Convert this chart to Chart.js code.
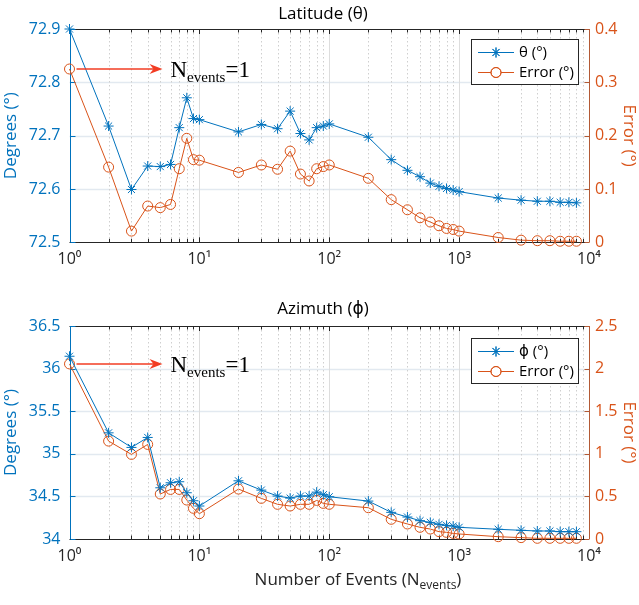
<!DOCTYPE html>
<html><head><meta charset="utf-8">
<script src="https://cdn.jsdelivr.net/npm/chart.js@4/dist/chart.umd.min.js"></script>
<style>
body{margin:0;background:#fff;width:639px;height:605px;overflow:hidden}
.box{position:absolute;left:0;width:639px}
</style>
</head><body>
<div class="box" style="top:0;height:295px"><canvas id="c1"></canvas></div>
<div class="box" style="top:295px;height:310px"><canvas id="c2"></canvas></div>
<script>
// ---- data ----
const events = [1,2,3,4,5,6,7,8,9,10,20,30,40,50,60,70,80,90,100,200,300,400,500,600,700,800,900,1000,2000,3000,4000,5000,6000,7000,8000];
const latTheta = [72.900,72.718,72.599,72.643,72.642,72.646,72.715,72.771,72.732,72.730,
  72.707,72.721,72.713,72.746,72.704,72.692,72.715,72.718,72.722,
  72.697,72.655,72.635,72.623,72.611,72.605,72.601,72.598,72.595,
  72.583,72.579,72.577,72.577,72.575,72.575,72.574];
const latError = [0.325,0.141,0.021,0.068,0.065,0.071,0.138,0.195,0.155,0.154,
  0.131,0.145,0.137,0.171,0.128,0.115,0.138,0.142,0.145,
  0.120,0.080,0.061,0.046,0.038,0.031,0.026,0.024,0.021,
  0.009,0.004,0.003,0.003,0.002,0.002,0.002];
const aziPhi = [36.145,35.246,35.075,35.192,34.601,34.660,34.672,34.543,34.449,34.387,
  34.683,34.574,34.504,34.480,34.504,34.504,34.550,34.520,34.496,
  34.445,34.313,34.258,34.215,34.195,34.172,34.160,34.152,34.137,
  34.114,34.102,34.094,34.094,34.086,34.086,34.086];
const aziError = [2.055,1.149,0.993,1.110,0.528,0.582,0.582,0.457,0.360,0.297,
  0.586,0.477,0.407,0.387,0.407,0.407,0.453,0.418,0.407,
  0.367,0.231,0.176,0.137,0.117,0.086,0.078,0.066,0.059,
  0.027,0.016,0.008,0.008,0.008,0.008,0.008];
const xTickExponents = [0,1,2,3,4];
const latLeftTicks = [72.5,72.6,72.7,72.8,72.9];
const latRightTicks = [0,0.1,0.2,0.3,0.4];
const aziLeftTicks = [34,34.5,35,35.5,36,36.5];
const aziRightTicks = [0,0.5,1,1.5,2,2.5];
const titles = ['Latitude (θ)','Azimuth (ϕ)'];
const legendLabels = [['θ (°)','Error (°)'],['ϕ (°)','Error (°)']];

// ---- styles ----
const BLUE = '#0072BD', ORANGE = '#D95319', AXR = '#b35a35', DARK = '#262626';
const FONT = "'Open Sans', 'DejaVu Sans', sans-serif";
const SUP = {0:'⁰',1:'¹',2:'²',3:'³',4:'⁴'};

function fmt(v){ return Number(v.toFixed(2)).toString(); }

function drawArrowNote(ctx, x0, y, x1){
  ctx.save();
  ctx.strokeStyle = '#f23c23'; ctx.fillStyle = '#f23c23'; ctx.lineWidth = 1.5;
  ctx.beginPath(); ctx.moveTo(x0, y); ctx.lineTo(x1 - 8, y); ctx.stroke();
  ctx.beginPath(); ctx.moveTo(x1, y); ctx.lineTo(x1 - 13, y - 5); ctx.lineTo(x1 - 9, y); ctx.lineTo(x1 - 13, y + 5); ctx.closePath(); ctx.fill();
  ctx.fillStyle = '#000'; ctx.textBaseline = 'alphabetic'; ctx.textAlign = 'left';
  let tx = x1 + 8, by = y + 8;
  ctx.font = "23px 'Liberation Serif', serif"; ctx.fillText('N', tx, by); tx += ctx.measureText('N').width;
  ctx.font = "15px 'Liberation Serif', serif"; ctx.fillText('events', tx, by + 5); tx += ctx.measureText('events').width;
  ctx.font = "23px 'Liberation Serif', serif"; ctx.fillText('=1', tx, by);
  ctx.restore();
}

function makeChart(id, cfg){
  const deco = {
    id: 'deco',
    beforeDatasetsDraw(chart){
      const {ctx, chartArea:a, scales} = chart;
      const xs = scales.x, yl = scales.y, yr = scales.y1;
      ctx.save();
      // horizontal grid
      ctx.strokeStyle = '#e2e9f0'; ctx.lineWidth = 1.5;
      cfg.leftTicks.forEach(v => {
        const y = Math.round(yl.getPixelForValue(v)) + 0.5;
        if (y > a.top + 1 && y < a.bottom - 1){ ctx.beginPath(); ctx.moveTo(a.left, y); ctx.lineTo(a.right, y); ctx.stroke(); }
      });
      // vertical grid
      for (let d = 0; d < 4; d++){
        for (let k = 1; k <= 9; k++){
          const v = k * Math.pow(10, d);
          const x = Math.round(xs.getPixelForValue(v)) + 0.5;
          if (k === 1){ if (d === 0) continue; ctx.setLineDash([]); ctx.strokeStyle = '#dddddd'; ctx.lineWidth = 1; }
          else { ctx.setLineDash([1.5, 2.5]); ctx.strokeStyle = '#cfcfcf'; ctx.lineWidth = 1; }
          ctx.beginPath(); ctx.moveTo(x, a.top); ctx.lineTo(x, a.bottom); ctx.stroke();
        }
      }
      ctx.setLineDash([]);
      // x ticks on top and bottom
      ctx.strokeStyle = DARK; ctx.lineWidth = 1;
      for (let d = 0; d < 4; d++){
        for (let k = 1; k <= 9; k++){
          const x = Math.round(xs.getPixelForValue(k * Math.pow(10, d))) + 0.5;
          const len = k === 1 ? 5 : 3.5;
          ctx.beginPath(); ctx.moveTo(x, a.bottom); ctx.lineTo(x, a.bottom - len);
          ctx.moveTo(x, a.top); ctx.lineTo(x, a.top + len); ctx.stroke();
        }
      }
      // box
      ctx.beginPath(); ctx.moveTo(a.left, Math.round(a.top)+0.5); ctx.lineTo(a.right, Math.round(a.top)+0.5);
      ctx.moveTo(a.left, Math.round(a.bottom)+0.5); ctx.lineTo(a.right, Math.round(a.bottom)+0.5); ctx.stroke();
      ctx.strokeStyle = BLUE; ctx.beginPath();
      const lx = Math.round(a.left) + 0.5;
      ctx.moveTo(lx, a.top); ctx.lineTo(lx, a.bottom);
      cfg.leftTicks.forEach(v => { const y = Math.round(yl.getPixelForValue(v)) + 0.5; ctx.moveTo(lx, y); ctx.lineTo(lx + 5, y); });
      ctx.stroke();
      ctx.strokeStyle = AXR; ctx.beginPath();
      const rx = Math.round(a.right) + 0.5;
      ctx.moveTo(rx, a.top); ctx.lineTo(rx, a.bottom);
      cfg.rightTicks.forEach(v => { const y = Math.round(yr.getPixelForValue(v)) + 0.5; ctx.moveTo(rx, y); ctx.lineTo(rx - 5, y); });
      ctx.stroke();
      ctx.restore();
    },
    afterDatasetsDraw(chart){
      const {ctx, chartArea:a, scales} = chart;
      ctx.save();
      // title
      ctx.fillStyle = '#000'; ctx.font = '17px ' + FONT; ctx.textAlign = 'center'; ctx.textBaseline = 'middle';
      ctx.fillText(cfg.title, cfg.titleX, cfg.titleY);
      // annotation arrow
      const px = scales.x.getPixelForValue(events[0]);
      const py = scales.y1.getPixelForValue(cfg.err[0]);
      drawArrowNote(ctx, px + 7, py, px + 93);
      // legend
      const L = cfg.legend;
      ctx.fillStyle = '#fff'; ctx.fillRect(L.x, L.y, L.w, L.h);
      ctx.strokeStyle = DARK; ctx.lineWidth = 1; ctx.strokeRect(L.x + 0.5, L.y + 0.5, L.w, L.h);
      const rows = [L.y + 13.5, L.y + 33.5];
      ctx.font = '15px ' + FONT; ctx.textAlign = 'left'; ctx.textBaseline = 'middle';
      [[BLUE,'star'],[ORANGE,'circle']].forEach((s, i) => {
        const y = rows[i];
        ctx.strokeStyle = s[0]; ctx.lineWidth = 1;
        ctx.beginPath(); ctx.moveTo(L.x + 7, y); ctx.lineTo(L.x + 43, y); ctx.stroke();
        ctx.fillStyle = '#fff';
        Chart.helpers.drawPoint(ctx, {pointStyle: s[1], radius: 5, rotation: 0, borderWidth: 1}, L.x + 25, y);
        ctx.stroke();
        ctx.fillStyle = '#000'; ctx.fillText(cfg.labels[i], L.x + 48, y);
      });
      // x label
      if (cfg.xlabel){
        ctx.fillStyle = DARK; ctx.textBaseline = 'alphabetic'; ctx.textAlign = 'left';
        const f1 = '17px ' + FONT, f2 = '12px ' + FONT;
        const t1 = 'Number of Events (N', t2 = 'events', t3 = ')';
        ctx.font = f1; const w1 = ctx.measureText(t1).width, w3 = ctx.measureText(t3).width;
        ctx.font = f2; const w2 = ctx.measureText(t2).width;
        let x = cfg.xlabelX - (w1 + w2 + w3) / 2; const by = cfg.xlabelY;
        ctx.font = f1; ctx.fillText(t1, x, by); x += w1;
        ctx.font = f2; ctx.fillText(t2, x, by + 4); x += w2;
        ctx.font = f1; ctx.fillText(t3, x, by);
      }
      ctx.restore();
    }
  };

  return new Chart(document.getElementById(id), {
    type: 'line',
    data: {
      labels: events,
      datasets: [
        {label: cfg.labels[0], data: events.map((e, i) => ({x: e, y: cfg.val[i]})), yAxisID: 'y',
         borderColor: BLUE, backgroundColor: BLUE, borderWidth: 1, pointStyle: 'star', pointRadius: 5,
         pointBorderColor: BLUE, pointBorderWidth: 1, pointHoverRadius: 5, tension: 0, clip: false, order: 1},
        {label: cfg.labels[1], data: events.map((e, i) => ({x: e, y: cfg.err[i]})), yAxisID: 'y1',
         borderColor: ORANGE, backgroundColor: 'rgba(0,0,0,0)', borderWidth: 1, pointStyle: 'circle', pointRadius: 5,
         pointBorderColor: ORANGE, pointBackgroundColor: 'rgba(0,0,0,0)', pointBorderWidth: 1, pointHoverRadius: 5, tension: 0, clip: false, order: 2}
      ]
    },
    options: {
      responsive: true, maintainAspectRatio: false, animation: false,
      layout: {padding: {top: cfg.padTop, left: 0, right: 0, bottom: 0}},
      plugins: {legend: {display: false}, tooltip: {enabled: false}, title: {display: false}},
      events: [],
      scales: {
        x: {
          type: 'logarithmic', min: 1, max: 10000, position: 'bottom',
          grid: {display: false, drawTicks: false}, border: {display: false},
          afterFit: s => { s.height = cfg.xHeight; },
          afterBuildTicks: s => { s.ticks = xTickExponents.map(e => ({value: Math.pow(10, e)})); },
          ticks: {
            autoSkip: false, maxRotation: 0, padding: 8, color: DARK,
            font: {family: FONT, size: 16},
            callback: v => { const e = Math.round(Math.log10(v)); return '10' + SUP[e]; }
          }
        },
        y: {
          position: 'left', min: cfg.leftMin, max: cfg.leftMax,
          grid: {display: false, drawTicks: false}, border: {display: false},
          afterFit: s => { s.width = 69.5; },
          afterBuildTicks: s => { s.ticks = cfg.leftTicks.map(v => ({value: v})); },
          ticks: {padding: 9, color: BLUE, font: {family: FONT, size: 16}, callback: v => fmt(v)},
          title: {display: true, text: 'Degrees (°)', color: BLUE, font: {family: FONT, size: 17}, padding: {top: 1, bottom: 0}}
        },
        y1: {
          position: 'right', min: cfg.rightMin, max: cfg.rightMax,
          grid: {display: false, drawTicks: false}, border: {display: false},
          afterFit: s => { s.width = 50; },
          afterBuildTicks: s => { s.ticks = cfg.rightTicks.map(v => ({value: v})); },
          ticks: {padding: 6, color: ORANGE, font: {family: FONT, size: 16}, callback: v => fmt(v)},
          title: {display: true, text: 'Error (°)', color: ORANGE, font: {family: FONT, size: 17}, padding: {top: 0, bottom: 0}}
        }
      }
    },
    plugins: [deco]
  });
}

makeChart('c1', {
  val: latTheta, err: latError, labels: legendLabels[0], title: titles[0], titleX: 323, titleY: 14,
  leftMin: 72.5, leftMax: 72.9, rightMin: 0, rightMax: 0.4, leftTicks: latLeftTicks, rightTicks: latRightTicks,
  padTop: 29, xHeight: 295 - 242.3,
  legend: {x: 471, y: 39, w: 107, h: 45}, xlabel: false
});
makeChart('c2', {
  val: aziPhi, err: aziError, labels: legendLabels[1], title: titles[1], titleX: 323, titleY: 14,
  leftMin: 34, leftMax: 36.5, rightMin: 0, rightMax: 2.5, leftTicks: aziLeftTicks, rightTicks: aziRightTicks,
  padTop: 31, xHeight: 310 - 244,
  legend: {x: 471, y: 43, w: 107, h: 45}, xlabel: true, xlabelX: 358, xlabelY: 290
});
</script>
</body></html>
